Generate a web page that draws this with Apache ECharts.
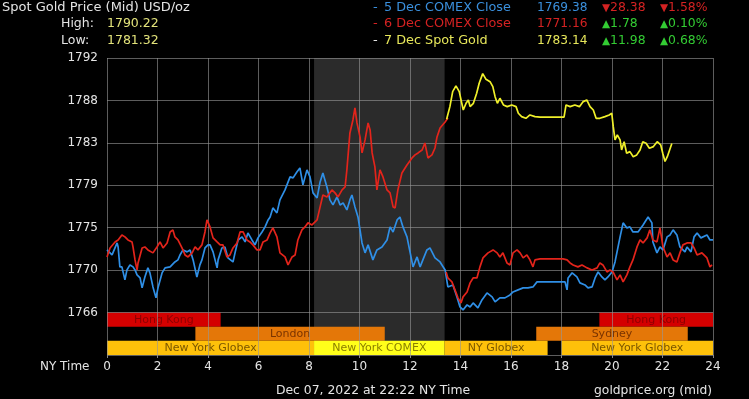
<!DOCTYPE html>
<html><head><meta charset="utf-8">
<script src="https://cdn.jsdelivr.net/npm/echarts@6/dist/echarts.min.js"></script>
<style>html,body{margin:0;padding:0;background:#000;}#c{width:749px;height:399px;}</style>
</head><body><div id="c"></div>
<script>
// ---- axis setup values ----
const yMin = 1761.7, yMax = 1791.8, yStep = 4.3;
const xTicks = [0, 2, 4, 6, 8, 10, 12, 14, 16, 18, 20, 22, 24];

// ---- 5 Dec COMEX Close (blue) ----
const blueT = [0,0.04,0.20,0.40,0.44,0.51,0.59,0.71,0.79,0.91,1.03,1.11,1.19,1.31,1.39,1.50,1.62,1.70,1.82,1.94,2.02,2.18,2.30,2.50,2.69,2.81,2.89,3.01,3.17,3.29,3.41,3.56,3.68,3.76,3.88,4.00,4.08,4.20,4.36,4.40,4.55,4.67,4.79,4.99,5.07,5.19,5.35,5.47,5.58,5.74,5.86,5.98,6.14,6.26,6.38,6.46,6.57,6.73,6.85,7.05,7.25,7.37,7.52,7.64,7.76,7.92,8.04,8.16,8.32,8.44,8.55,8.71,8.83,8.95,9.11,9.23,9.35,9.50,9.62,9.70,9.82,9.94,10.10,10.22,10.34,10.53,10.69,10.89,11.09,11.21,11.33,11.49,11.60,11.72,11.88,12.00,12.12,12.28,12.40,12.51,12.67,12.79,12.99,13.19,13.39,13.50,13.70,13.86,13.98,14.10,14.26,14.38,14.50,14.69,14.85,15.05,15.25,15.37,15.56,15.76,15.96,16.08,16.28,16.48,16.67,16.87,17.03,17.27,17.74,18.14,18.22,18.26,18.42,18.61,18.73,18.93,19.05,19.21,19.33,19.45,19.60,19.72,19.84,20.00,20.12,20.32,20.44,20.59,20.71,20.83,21.03,21.23,21.43,21.58,21.62,21.78,21.90,22.02,22.18,22.30,22.42,22.57,22.69,22.89,22.97,23.13,23.25,23.37,23.52,23.76,23.88,24.00];
const blueV = [1772.35,1772.55,1771.84,1773.06,1772.65,1770.63,1770.63,1769.31,1770.32,1770.83,1770.63,1770.32,1769.82,1769.51,1768.50,1769.61,1770.53,1770.02,1768.60,1767.49,1768.50,1770.02,1770.53,1770.63,1771.13,1771.34,1771.84,1772.35,1772.15,1772.35,1771.34,1769.61,1770.83,1771.34,1772.55,1772.86,1772.86,1772.15,1770.53,1771.34,1772.55,1772.65,1771.54,1771.13,1772.05,1773.36,1773.67,1773.16,1774.07,1773.36,1772.86,1773.57,1774.17,1774.68,1775.39,1775.69,1776.61,1776.10,1777.42,1778.43,1779.75,1779.65,1780.25,1780.66,1778.94,1780.46,1779.75,1778.13,1777.62,1779.24,1780.15,1778.73,1777.42,1776.91,1777.72,1776.91,1777.11,1776.40,1777.42,1777.92,1776.71,1775.69,1773.06,1772.05,1772.86,1771.34,1772.35,1772.65,1773.36,1774.68,1774.17,1775.39,1775.69,1774.68,1773.67,1772.15,1770.63,1771.64,1770.63,1771.34,1772.35,1772.55,1771.54,1771.13,1770.32,1768.60,1768.80,1767.59,1766.57,1766.27,1766.78,1766.57,1766.98,1766.47,1767.28,1767.99,1767.59,1767.08,1767.49,1767.49,1767.79,1768.09,1768.30,1768.50,1768.50,1768.60,1769.11,1769.11,1769.11,1769.11,1768.30,1769.51,1770.02,1769.61,1769.01,1768.80,1768.50,1768.60,1769.51,1770.12,1769.61,1769.31,1769.61,1770.12,1771.13,1773.67,1775.09,1774.58,1774.68,1774.17,1774.17,1774.88,1775.69,1775.09,1773.16,1772.05,1772.65,1772.35,1773.67,1773.87,1774.38,1773.87,1772.65,1772.15,1772.65,1772.15,1773.67,1774.07,1773.57,1773.87,1773.36,1773.36];

// ---- 6 Dec COMEX Close (red), null marks the break ----
const redT = [0,0.12,0.32,0.44,0.59,0.71,0.83,0.99,1.03,1.11,1.19,1.23,1.39,1.50,1.62,1.82,1.98,2.10,2.22,2.38,2.50,2.61,2.69,2.81,2.97,3.09,3.21,3.37,3.49,3.60,3.76,3.88,3.96,4.08,4.20,4.36,4.48,4.59,4.75,4.87,4.99,5.15,5.27,5.39,5.54,5.66,5.78,5.94,6.06,6.18,6.34,6.46,6.57,6.73,6.85,7.05,7.17,7.33,7.45,7.56,7.72,7.84,7.96,8.12,8.32,8.44,8.55,8.71,8.91,9.03,9.15,9.31,9.43,9.50,9.62,9.74,9.82,9.90,10.02,10.10,10.22,10.34,10.42,10.50,10.61,10.69,10.81,10.93,11.09,11.21,11.33,11.41,11.52,11.68,11.88,12.08,12.20,12.32,12.48,12.59,12.71,12.87,12.99,13.07,13.19,13.39,13.50,
  13.46,
  13.43,13.50,13.66,13.78,13.90,14.02,14.10,14.26,14.38,14.50,14.65,14.77,14.89,15.09,15.29,15.45,15.56,15.68,15.84,15.96,16.08,16.24,16.36,16.48,16.63,16.75,16.87,16.95,17.15,17.66,18.06,18.22,18.34,18.46,18.65,18.81,19.01,19.21,19.41,19.52,19.64,19.80,19.92,20.04,20.20,20.32,20.44,20.59,20.71,20.83,20.99,21.11,21.23,21.39,21.50,21.62,21.78,21.90,22.02,22.18,22.30,22.42,22.57,22.69,22.81,22.97,23.13,23.25,23.37,23.56,23.76,23.88,23.96];
const redV = [1771.64,1772.55,1773.16,1773.36,1773.87,1773.67,1773.36,1773.16,1772.65,1771.34,1770.32,1771.03,1772.55,1772.65,1772.35,1772.05,1772.65,1773.16,1772.55,1773.06,1774.17,1774.38,1773.67,1773.36,1772.55,1771.84,1771.64,1772.05,1772.65,1772.35,1772.86,1774.17,1775.39,1774.68,1773.57,1773.16,1772.86,1772.86,1771.64,1771.84,1772.55,1773.06,1774.17,1774.17,1773.36,1773.16,1772.86,1772.35,1772.35,1773.16,1773.36,1774.07,1774.58,1773.67,1772.05,1771.64,1770.83,1771.64,1771.84,1773.36,1774.38,1774.68,1775.09,1774.88,1775.39,1776.71,1777.92,1777.72,1778.43,1778.13,1777.72,1778.43,1778.73,1780.46,1784.20,1785.52,1786.74,1785.22,1783.80,1782.18,1783.50,1785.22,1784.51,1782.18,1780.76,1778.43,1780.46,1779.75,1778.43,1778.13,1776.71,1776.61,1778.43,1780.15,1780.96,1781.67,1781.98,1782.18,1782.48,1783.19,1781.67,1781.98,1782.68,1783.80,1784.71,1785.32,1785.72,
  null,
  1770.12,1769.51,1769.11,1768.30,1767.49,1766.98,1767.59,1768.09,1769.01,1769.51,1769.51,1770.63,1771.54,1772.05,1772.35,1772.05,1771.64,1772.05,1771.03,1770.83,1772.05,1772.35,1772.05,1771.54,1771.84,1771.34,1770.63,1771.34,1771.44,1771.44,1771.44,1771.34,1771.03,1770.83,1770.63,1770.83,1770.53,1770.32,1770.53,1771.03,1770.83,1770.12,1770.32,1770.12,1769.31,1769.82,1769.11,1769.82,1770.63,1771.34,1772.65,1773.36,1773.06,1773.57,1774.38,1773.36,1773.16,1774.58,1772.65,1771.64,1772.05,1771.34,1771.13,1772.05,1772.86,1773.06,1773.06,1772.55,1771.84,1772.05,1771.54,1770.63,1770.83];

// ---- 7 Dec Spot Gold (yellow) ----
const yellowT = [13.45,13.58,13.69,13.82,13.95,14.05,14.11,14.22,14.31,14.38,14.51,14.64,14.74,14.88,15.01,15.17,15.28,15.37,15.46,15.56,15.70,15.85,16.03,16.20,16.29,16.42,16.59,16.75,16.95,17.15,17.68,18.10,18.18,18.34,18.53,18.71,18.86,19.00,19.13,19.26,19.37,19.52,19.72,19.89,19.99,20.05,20.12,20.21,20.32,20.38,20.48,20.58,20.71,20.84,20.98,21.11,21.22,21.35,21.48,21.64,21.79,21.93,22.01,22.10,22.19,22.37];
const yellowV = [1785.59,1786.87,1788.39,1788.97,1788.39,1787.21,1786.53,1787.21,1787.55,1786.87,1787.21,1788.23,1789.24,1790.22,1789.64,1789.40,1788.90,1787.88,1787.21,1787.72,1787.04,1786.87,1787.04,1786.87,1786.20,1785.86,1785.69,1786.03,1785.86,1785.80,1785.80,1785.80,1787.04,1786.87,1787.04,1786.87,1787.38,1787.55,1786.87,1786.53,1785.69,1785.69,1785.86,1786.03,1786.20,1784.84,1783.50,1784.00,1783.50,1782.48,1783.32,1782.15,1782.31,1781.80,1781.98,1782.48,1783.32,1783.16,1782.65,1782.82,1783.32,1782.99,1782.15,1781.32,1781.80,1783.14];

// ---- trading sessions (row 0 = top) ----
const sessionNames = ['Hong Kong','Hong Kong','London','Sydney','New York Globex','New York COMEX','NY Globex','New York Globex'];
const sessionKinds = ['hk','hk','london','sydney','globex','comex','globex','globex'];
const sessionStart = [0, 19.5, 3.5, 17, 0, 8.2, 13.37, 18];
const sessionEnd   = [4.5, 24, 11, 23, 8.2, 13.37, 17.45, 24];
const sessionRow   = [0, 0, 1, 1, 2, 2, 2, 2];
const comexBand = [8.2, 13.37];

// ---- header texts ----
const titleText = 'Spot Gold Price (Mid) USD/oz';
const highLabel = 'High:', highValue = '1790.22';
const lowLabel = 'Low:', lowValue = '1781.32';
const legendNames = ['5 Dec COMEX Close', '6 Dec COMEX Close', '7 Dec Spot Gold'];
const legendValues = ['1769.38', '1771.16', '1783.14'];
const legendChanges = ['28.38', '1.78', '11.98'];
const legendPcts = ['1.58%', '0.10%', '0.68%'];
const legendUp = [false, true, true];
const footerTime = 'Dec 07, 2022 at 22:22 NY Time';
const footerSource = 'goldprice.org (mid)';
const xAxisName = 'NY Time';

// ---- styles ----
const FONT = 'DejaVu Sans';
const lineColors = ['#2f8fe6', '#e3241b', '#f0f02a'];
const legendTextColors = ['#3a8fdc', '#d42222', '#e6e65a'];
const kindStyle = {
  hk: {fill: '#d40000', text: '#8c0000'},
  london: {fill: '#e47708', text: '#7a3300'},
  sydney: {fill: '#e47708', text: '#7a3300'},
  globex: {fill: '#fec10a', text: '#7a5600'},
  comex: {fill: '#ffff1a', text: '#8a7e00'}
};
const GREEN = '#33cc33', DOWNRED = '#d42222';

const chart = echarts.init(document.getElementById('c'));

const graphics = [];
function txt(x, y, text, color, align, size) {
  graphics.push({type: 'text', x: x, y: y, silent: true,
    style: {text: text, fill: color, font: (size || 12) + 'px "' + FONT + '"', align: align || 'left', verticalAlign: 'middle'}});
}
txt(2, 8, titleText, '#e4e4e4', 'left', 13);
txt(61, 24, highLabel, '#e4e4e4', 'left', 12.5);
txt(107, 24, highValue, '#e2e27a', 'left', 12.5);
txt(61, 41, lowLabel, '#e4e4e4', 'left', 12.5);
txt(107, 41, lowValue, '#e2e27a', 'left', 12.5);
const rowY = [8, 24, 41];
for (let i = 0; i < 3; i++) {
  const dashColor = i === 2 ? '#e4e4e4' : legendTextColors[i];
  txt(373, rowY[i], '-', dashColor, 'left', 13);
  txt(384, rowY[i], legendNames[i], legendTextColors[i], 'left', 12.8);
  txt(537, rowY[i], legendValues[i], legendTextColors[i], 'left', 12.2);
  const c = legendUp[i] ? GREEN : DOWNRED;
  const arrow = legendUp[i] ? '▲' : '▼';
  graphics.push({type: 'text', x: 602, y: rowY[i], silent: true, style: {
    text: '{a|' + arrow + '}' + legendChanges[i], fill: c, font: '12.4px "' + FONT + '"', verticalAlign: 'middle',
    rich: {a: {fontSize: 10.5, fill: c, fontFamily: FONT}}}});
  graphics.push({type: 'text', x: 660, y: rowY[i], silent: true, style: {
    text: '{a|' + arrow + '}' + legendPcts[i], fill: c, font: '12.4px "' + FONT + '"', verticalAlign: 'middle',
    rich: {a: {fontSize: 10.5, fill: c, fontFamily: FONT}}}});
}
txt(40, 367, xAxisName, '#e4e4e4');
txt(373, 391, footerTime, '#e4e4e4', 'center', 12.4);
txt(712, 391, footerSource, '#e4e4e4', 'right', 12.3);

const gridCol = 'rgba(150,150,150,0.62)';

function zip(t, v) { return t.map((x, i) => [x, v[i]]); }

chart.setOption({
  backgroundColor: '#000',
  animation: false,
  grid: {left: 107, right: 36, top: 58, bottom: 44},
  xAxis: {
    type: 'value', min: 0, max: 24, interval: 2, z: 0,
    axisLine: {show: false},
    axisTick: {show: true, length: 3, lineStyle: {color: '#888'}},
    axisLabel: {color: '#e4e4e4', fontFamily: FONT, fontSize: 12, margin: 6,
      formatter: v => xTicks.includes(v) ? String(v) : ''},
    splitLine: {show: true, lineStyle: {color: gridCol, width: 1}}
  },
  yAxis: {
    type: 'value', min: yMin, max: yMax, interval: yStep, z: 0,
    axisLine: {show: false}, axisTick: {show: false},
    axisLabel: {color: '#e4e4e4', fontFamily: FONT, fontSize: 12, margin: 9,
      formatter: v => v < yMin + 1 ? '' : String(Math.round(v))},
    splitLine: {show: true, lineStyle: {color: gridCol, width: 1}}
  },
  graphic: graphics,
  series: [
    {
      type: 'custom', z: -2, silent: true, clip: false,
      data: [comexBand],
      renderItem: function (params, api) {
        const p0 = api.coord([api.value(0), yMax]);
        const p1 = api.coord([api.value(1), yMin]);
        return {type: 'rect', shape: {x: p0[0], y: p0[1], width: p1[0] - p0[0], height: p1[1] - p0[1]},
          style: {fill: '#2b2b2b'}};
      }
    },
    {
      type: 'custom', z: -1, silent: true, clip: false,
      data: sessionNames.map((n, i) => [sessionStart[i], sessionEnd[i], sessionRow[i], i]),
      renderItem: function (params, api) {
        const i = api.value(3);
        const h = yStep / 3;
        const topV = yMin + yStep - api.value(2) * h;
        const p0 = api.coord([api.value(0), topV]);
        const p1 = api.coord([api.value(1), topV - h]);
        const st = kindStyle[sessionKinds[i]];
        return {type: 'group', children: [
          {type: 'rect', shape: {x: p0[0], y: p0[1], width: p1[0] - p0[0], height: p1[1] - p0[1]}, style: {fill: st.fill}},
          {type: 'text', style: {text: sessionNames[i], x: (p0[0] + p1[0]) / 2, y: (p0[1] + p1[1]) / 2 + 0.5,
            align: 'center', verticalAlign: 'middle', fill: st.text, font: '11px "' + FONT + '"'}}
        ]};
      }
    },
    {type: 'line', data: zip(blueT, blueV), showSymbol: false, connectNulls: false, z: 3,
      lineStyle: {color: lineColors[0], width: 1.7}, itemStyle: {color: lineColors[0]}},
    {type: 'line', data: zip(redT, redV), showSymbol: false, connectNulls: false, z: 4,
      lineStyle: {color: lineColors[1], width: 1.7}, itemStyle: {color: lineColors[1]}},
    {type: 'line', data: zip(yellowT, yellowV), showSymbol: false, connectNulls: false, z: 5,
      lineStyle: {color: lineColors[2], width: 1.7}, itemStyle: {color: lineColors[2]}}
  ]
});
</script></body></html>
